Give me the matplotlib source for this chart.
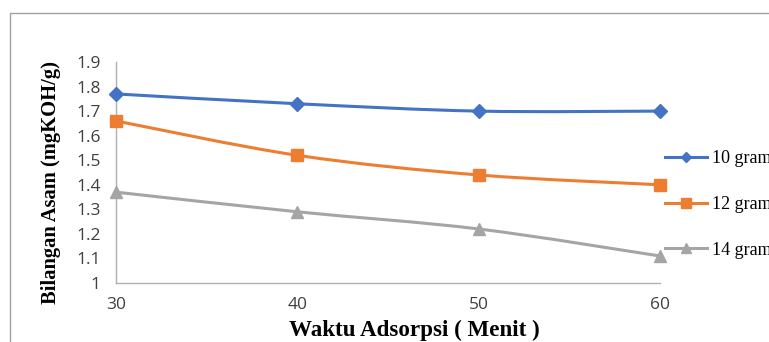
import numpy as np
import matplotlib
matplotlib.use("Agg")
import matplotlib.pyplot as plt
from matplotlib.path import Path
from matplotlib.patches import PathPatch, Rectangle
from matplotlib.lines import Line2D

waktu = [30, 40, 50, 60]
gram_10 = [1.77, 1.73, 1.70, 1.70]
gram_12 = [1.66, 1.52, 1.44, 1.40]
gram_14 = [1.37, 1.29, 1.22, 1.11]
labels = ["10 gram", "12 gram", "14 gram"]
y_ticks = [1, 1.1, 1.2, 1.3, 1.4, 1.5, 1.6, 1.7, 1.8, 1.9]
y_tick_labels = ["1", "1.1", "1.2", "1.3", "1.4", "1.5", "1.6", "1.7", "1.8", "1.9"]


def smooth_path(x, y):
    # Catmull-Rom style bezier through the points (like Excel's smoothed line)
    x = np.asarray(x, float)
    y = np.asarray(y, float)
    verts = [(x[0], y[0])]
    codes = [Path.MOVETO]
    n = len(x)
    for i in range(n - 1):
        p0 = (x[max(i - 1, 0)], y[max(i - 1, 0)])
        p1 = (x[i], y[i])
        p2 = (x[i + 1], y[i + 1])
        p3 = (x[min(i + 2, n - 1)], y[min(i + 2, n - 1)])
        c1 = (p1[0] + (p2[0] - p0[0]) / 6, p1[1] + (p2[1] - p0[1]) / 6)
        c2 = (p2[0] - (p3[0] - p1[0]) / 6, p2[1] - (p3[1] - p1[1]) / 6)
        verts += [c1, c2, p2]
        codes += [Path.CURVE4] * 3
    return Path(verts, codes)


fig = plt.figure(figsize=(7.69, 3.42), dpi=100)
fig.patches.append(Rectangle((10 / 769, -0.1), 1.1, 1 - 13 / 342 + 0.1,
                             transform=fig.transFigure, fill=False,
                             edgecolor="#a0a0a0", linewidth=1.0))

ax = fig.add_axes([116 / 769, 1 - 283 / 342, (660 - 116) / 769, (283 - 62) / 342])

series = [
    (gram_10, "#4472C4", "D", 7),
    (gram_12, "#ED7D31", "s", 9),
    (gram_14, "#A5A5A5", "^", 9),
]
handles = []
for (vals, color, marker, ms), label in zip(series, labels):
    ax.add_patch(PathPatch(smooth_path(waktu, vals), fill=False,
                           edgecolor=color, linewidth=2.2, zorder=2))
    ax.plot(waktu, vals, linestyle="none", marker=marker, markersize=ms,
            color=color, zorder=3, clip_on=False)
    handles.append(Line2D([], [], color=color, linewidth=2.2, marker=marker,
                          markersize=ms * 0.75))

ax.set_xlim(30, 60)
ax.set_ylim(1, 1.9)
ax.set_xticks(waktu)
ax.set_xticklabels([str(w) for w in waktu])
ax.set_yticks(y_ticks)
ax.set_yticklabels(y_tick_labels)
ax.tick_params(length=0, labelsize=12.5, colors="#404040")
for lab in ax.get_xticklabels() + ax.get_yticklabels():
    lab.set_fontfamily("Open Sans")
ax.tick_params(axis="x", pad=10)
ax.tick_params(axis="y", pad=11)
for side in ["top", "right"]:
    ax.spines[side].set_visible(False)
for side in ["left", "bottom"]:
    ax.spines[side].set_color("#b0b0b0")
    ax.spines[side].set_linewidth(1.0)

ax.set_xlabel("Waktu Adsorpsi ( Menit )", fontfamily="Liberation Serif",
              fontweight="bold", fontsize=16.6)
ax.xaxis.set_label_coords(0.548, -0.165)
ax.set_ylabel("Bilangan Asam (mgKOH/g)", fontfamily="Liberation Serif",
              fontweight="bold", fontsize=14.8)
ax.yaxis.set_label_coords(-0.101, 0.457)

# legend runs off the right edge, as in the original chart
fig.legend(handles, labels, loc="upper left",
           bbox_to_anchor=(665 / 769, 1 - 150 / 342), frameon=False,
           prop={"family": "Liberation Serif", "size": 13},
           labelspacing=1.6, handlelength=2.33, handletextpad=0.28,
           borderpad=0, borderaxespad=0)

fig.savefig("out.png", dpi=100)
